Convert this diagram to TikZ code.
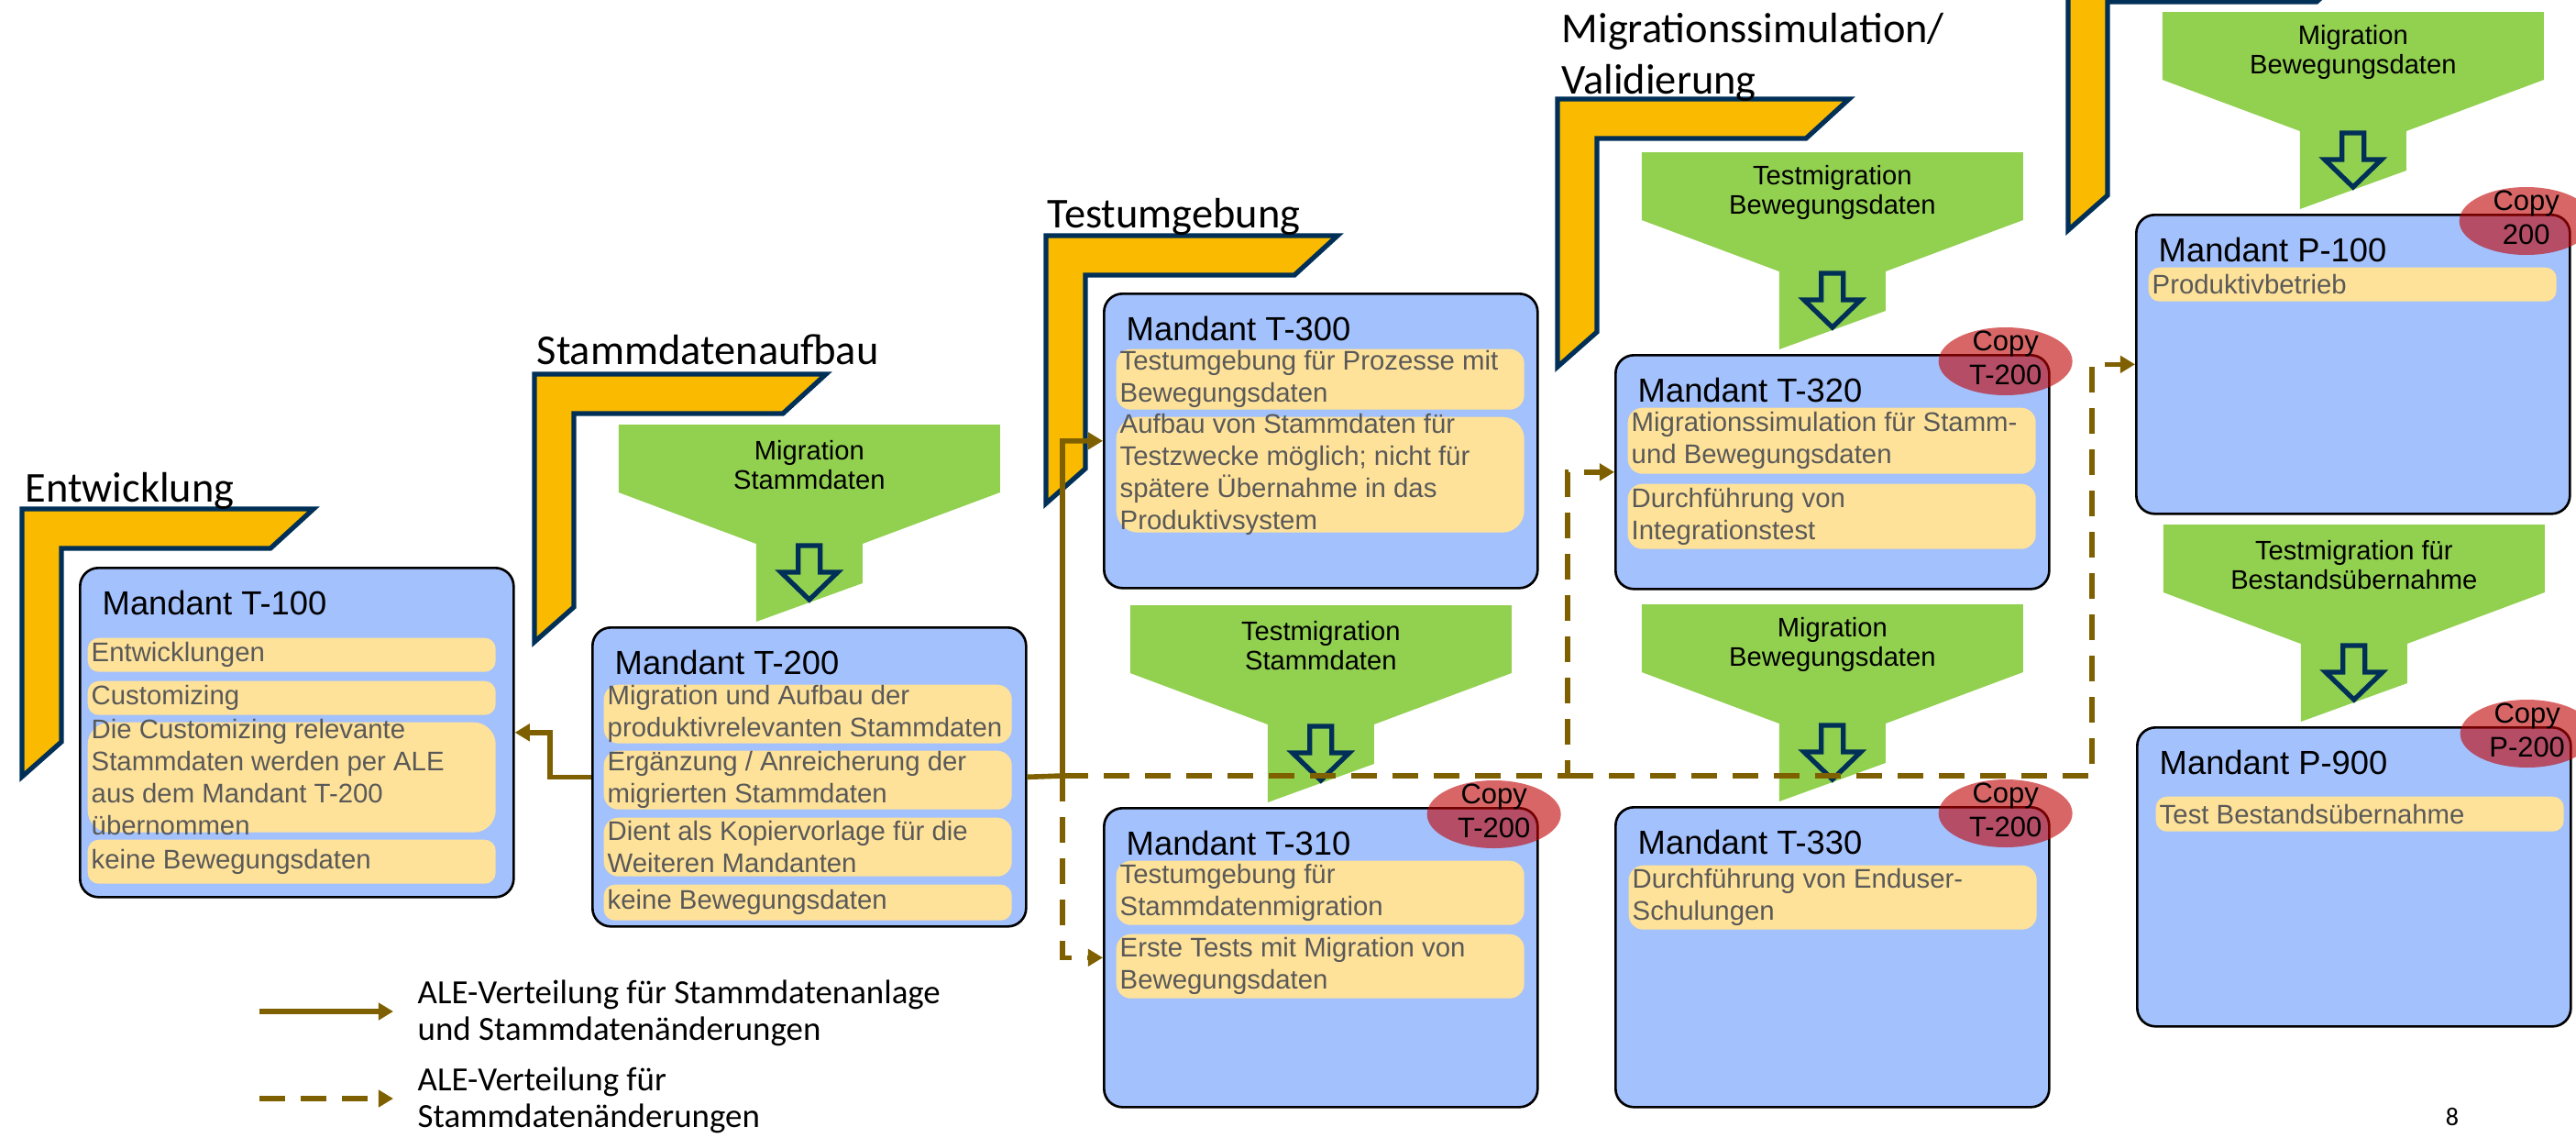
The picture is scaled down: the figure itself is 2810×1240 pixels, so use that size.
\documentclass[tikz,border=0pt]{standalone}
\usepackage{fontspec}
\setmainfont{Liberation Sans}
\newfontfamily\calibri{Carlito}
\usetikzlibrary{arrows.meta,shapes.geometric}

\definecolor{mandblue}{RGB}{163,193,253}
\definecolor{itemyellow}{RGB}{255,226,153}
\definecolor{itemgrey}{RGB}{89,89,89}
\definecolor{funnelgreen}{RGB}{146,208,80}
\definecolor{phaseyellow}{RGB}{250,186,0}
\definecolor{navy}{RGB}{0,48,87}
\definecolor{alebrown}{RGB}{127,96,0}
\definecolor{copyred}{RGB}{192,0,0}

\tikzset{
    phasebar/.style={fill=phaseyellow, draw=navy, line width=1.5pt},
    phasetitle/.style={anchor=base west, inner sep=0, align=left, font=\calibri\fontsize{13.2}{15.9}\selectfont},
    mandant/.style={anchor=north west, minimum width=47.3mm, draw=black, line width=0.75pt, fill=mandblue, rounded corners=2mm},
    mtitle/.style={anchor=base west, inner sep=0, font=\fontsize{10.35}{12}\selectfont},
    item/.style={anchor=north west, minimum width=44.5mm, inner sep=0, fill=itemyellow, rounded corners=1.2mm},
    itxt/.style={anchor=west, inner xsep=0.4mm, inner ysep=0, align=left, text=itemgrey, font=\fontsize{8.35}{9.96}\selectfont},
    funnelfill/.style={fill=funnelgreen},
    downarrow/.style={draw=navy, line width=1.5pt},
    ftext/.style={align=center, inner sep=0, font=\fontsize{8.3}{9.1}\selectfont},
    copyov/.style={ellipse, minimum width=14.6mm, minimum height=7.4mm, inner sep=0, fill=copyred, fill opacity=0.6},
    copytxt/.style={align=center, inner sep=0, font=\fontsize{8.8}{10.5}\selectfont},
    ale/.style={draw=alebrown, line width=1.6pt, -{Triangle[length=4.6pt,width=5.2pt]}},
    aled/.style={ale, dash pattern=on 8pt off 4.8pt},
    legendtxt/.style={anchor=west, inner sep=0, align=left, font=\calibri\fontsize{10.5}{11.3}\selectfont},
}

\begin{document}
\begin{tikzpicture}[x=0.1mm, y=-0.1mm]
    \useasboundingbox (0,0) rectangle (2810,1240);

    \foreach \bx/\by in {24/555, 583/408, 1141/257, 1699/108, 2256/-41}
        \draw[phasebar] (\bx,\by) -- ++(318,0) -- ++(-47,43) -- ++(-228,0) -- ++(0,211) -- ++(-43,38) -- cycle;
    \node[phasetitle] (ph1) at (27,547) {Entwicklung};
    \node[phasetitle] (ph2) at (585,397) {Stammdatenaufbau};
    \node[phasetitle] (ph3) at (1142,248) {Testumgebung};
    \node[phasetitle] (ph4) at (1703,102) {Migrationssimulation/\\Validierung};

    \node[mandant, minimum height=35.9mm] (t100) at (86,618) {};
    \node[mtitle] (t100h) at ([shift={(25,52)}]t100.north west) {Mandant T-100};
    \node[item, minimum height=3.7mm] (t100a) at (95,695) {};
    \node[itxt] (t100at) at (t100a.west) {Entwicklungen};
    \node[item, minimum height=3.7mm] (t100b) at (95,742) {};
    \node[itxt] (t100bt) at (t100b.west) {Customizing};
    \node[item, minimum height=12mm, rounded corners=2.4mm] (t100c) at (95,787) {};
    \node[itxt] (t100ct) at (t100c.west) {Die Customizing relevante\\Stammdaten werden per ALE\\aus dem Mandant T-200\\übernommen};
    \node[item, minimum height=4.8mm] (t100d) at (95,915) {};
    \node[itxt] (t100dt) at (t100d.west) {keine Bewegungsdaten};

    \node[mandant, minimum height=32.6mm] (t200) at (645,683) {};
    \node[mtitle] (t200h) at ([shift={(25,52)}]t200.north west) {Mandant T-200};
    \node[item, minimum height=6.4mm, rounded corners=1.6mm] (t200a) at (658,746) {};
    \node[itxt] (t200at) at (t200a.west) {Migration und Aufbau der\\produktivrelevanten Stammdaten};
    \node[item, minimum height=6.4mm, rounded corners=1.6mm] (t200b) at (658,818) {};
    \node[itxt] (t200bt) at (t200b.west) {Ergänzung / Anreicherung der\\migrierten Stammdaten};
    \node[item, minimum height=6.4mm, rounded corners=1.6mm] (t200c) at (658,891) {};
    \node[itxt] (t200ct) at (t200c.west) {Dient als Kopiervorlage für die\\Weiteren Mandanten};
    \node[item, minimum height=3.9mm] (t200d) at (658,964) {};
    \node[itxt] (t200dt) at (t200d.west) {keine Bewegungsdaten};

    \node[mandant, minimum height=32.1mm] (t300) at (1203,319) {};
    \node[mtitle] (t300h) at ([shift={(25,52)}]t300.north west) {Mandant T-300};
    \node[item, minimum height=6.6mm, rounded corners=1.6mm] (t300a) at (1217,380) {};
    \node[itxt] (t300at) at (t300a.west) {Testumgebung für Prozesse mit\\Bewegungsdaten};
    \node[item, minimum height=12.6mm, rounded corners=2.4mm] (t300b) at (1217,454) {};
    \node[itxt] (t300bt) at (t300b.west) {Aufbau von Stammdaten für\\Testzwecke möglich; nicht für\\spätere Übernahme in das\\Produktivsystem};

    \node[mandant, minimum height=32.6mm] (t310) at (1203,880) {};
    \node[mtitle] (t310h) at ([shift={(25,52)}]t310.north west) {Mandant T-310};
    \node[item, minimum height=7mm, rounded corners=1.6mm] (t310a) at (1217,938) {};
    \node[itxt] (t310at) at (t310a.west) {Testumgebung für\\Stammdatenmigration};
    \node[item, minimum height=7mm, rounded corners=1.6mm] (t310b) at (1217,1018) {};
    \node[itxt] (t310bt) at (t310b.west) {Erste Tests mit Migration von\\Bewegungsdaten};

    \node[mandant, minimum height=25.5mm] (t320) at (1761,386) {};
    \node[mtitle] (t320h) at ([shift={(25,52)}]t320.north west) {Mandant T-320};
    \node[item, minimum height=7.2mm, rounded corners=1.6mm] (t320a) at (1775,444) {};
    \node[itxt] (t320at) at (t320a.west) {Migrationssimulation für Stamm-\\und Bewegungsdaten};
    \node[item, minimum height=7.1mm, rounded corners=1.6mm] (t320b) at (1775,527) {};
    \node[itxt] (t320bt) at (t320b.west) {Durchführung von\\Integrationstest};

    \node[mandant, minimum height=32.7mm] (t330) at (1761,879) {};
    \node[mtitle] (t330h) at ([shift={(25,52)}]t330.north west) {Mandant T-330};
    \node[item, minimum height=7mm, rounded corners=1.6mm] (t330a) at (1776,943) {};
    \node[itxt] (t330at) at (t330a.west) {Durchführung von Enduser-\\Schulungen};

    \node[mandant, minimum height=32.6mm] (p100) at (2329,233) {};
    \node[mtitle] (p100h) at ([shift={(25,52)}]p100.north west) {Mandant P-100};
    \node[item, minimum height=3.7mm] (p100a) at (2343,291) {};
    \node[itxt] (p100at) at (p100a.west) {Produktivbetrieb};

    \node[mandant, minimum height=32.6mm] (p900) at (2330,792) {};
    \node[mtitle] (p900h) at ([shift={(25,52)}]p900.north west) {Mandant P-900};
    \node[item, minimum height=3.8mm] (p900a) at (2351,868) {};
    \node[itxt] (p900at) at (p900a.west) {Test Bestandsübernahme};

    \foreach \m/\ftxt in {t200/{Migration\\Stammdaten}, t310/{Testmigration\\Stammdaten}, t320/{Testmigration\\Bewegungsdaten},
            t330/{Migration\\Bewegungsdaten}, p100/{Migration\\Bewegungsdaten}, p900/{Testmigration für\\Bestandsübernahme}}{
        \begin{scope}[shift={(\m.north)}]
            \fill[funnelfill] (-208,-220) -- (208,-220) -- (208,-146) -- (58,-90) -- (58,-47) -- (-58,-5) -- (-58,-90) -- (-208,-146) -- cycle;
            \draw[downarrow] (-12,-88) -- (12,-88) -- (12,-59) -- (31,-59) -- (0,-29) -- (-31,-59) -- (-12,-59) -- cycle;
            \node[ftext] (f\m) at (0,-176) {\ftxt};
        \end{scope}
    }

    \foreach \m/\ctxt in {t310/{Copy\\T-200}, t320/{Copy\\T-200}, t330/{Copy\\T-200}, p100/{Copy\\200}, p900/{Copy\\P-200}}{
        \node[copyov] (c\m) at ([shift={(-49,8)}]\m.north east) {};
        \node[copytxt] (c\m t) at ([yshift=0.4mm]c\m.center) {\ctxt};
    }

    \coordinate (j1) at (1159,846);
    \coordinate (j2) at (1710,846);
    \coordinate (j3) at (2282,846);
    \draw[ale] (t200.west) -- ++(-45,0) |- (t100.east);
    \draw[ale] (t200.east) -- (j1) |- (t300.west);
    \draw[aled] (j1) |- (t310.west);
    \draw[aled] (j1) -- (j2) |- (t320.west);
    \draw[aled] (j2) -- (j3) |- (p100.west);

    \coordinate (lgsa) at (283,1103);
    \coordinate (lgsb) at (429,1103);
    \coordinate (lgda) at (283,1198);
    \coordinate (lgdb) at (429,1198);
    \draw[ale] (lgsa) -- (lgsb);
    \draw[aled] (lgda) -- (lgdb);
    \node[legendtxt] (lgst) at (455,1105) {ALE-Verteilung für Stammdatenanlage\\und Stammdatenänderungen};
    \node[legendtxt] (lgdt) at (455,1200) {ALE-Verteilung für\\Stammdatenänderungen};

    \node[anchor=base, inner sep=0, font=\calibri\fontsize{8}{9}\selectfont] (pnum) at (2675,1227) {8};
\end{tikzpicture}
\end{document}
